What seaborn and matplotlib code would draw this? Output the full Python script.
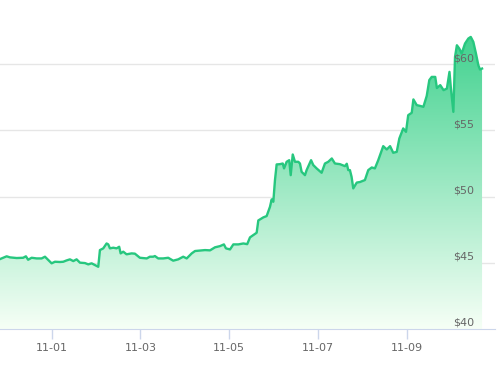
import numpy as np
import pandas as pd
import matplotlib
matplotlib.use("Agg")
import matplotlib.pyplot as plt
import matplotlib.dates as mdates
import seaborn as sns

# price readings, hours counted from 2021-10-30 00:00
hours = [20.1, 23.7, 25.5, 29.1, 32.6, 34.1, 35.3, 37.2, 39.9, 42.6, 44.4, 46.2,
         48.0, 49.8, 52.5, 54.3, 56.1, 57.9, 59.7, 61.5, 63.3, 66.0, 67.8, 69.6,
         71.4, 73.2, 74.1, 75.9, 77.7, 78.6, 79.5, 81.3, 83.1, 84.5, 85.3, 86.7,
         88.5, 91.2, 93.0, 95.7, 99.4, 101.1, 102.9, 103.8, 105.6, 108.3, 111.0,
         113.7, 116.4, 119.1, 121.0, 123.7, 125.5, 128.1, 130.9, 133.6, 136.3,
         139.0, 141.1, 142.2, 144.4, 146.2, 148.9, 151.6, 153.7, 155.2, 157.0,
         158.8, 159.7, 162.4, 164.2, 166.0, 166.9, 167.8, 168.7, 169.6, 171.4,
         172.9, 173.6, 175.0, 176.4, 177.2, 178.3, 179.5, 181.3, 182.2, 183.1,
         184.9, 185.8, 188.2, 189.4, 191.2, 193.9, 195.7, 197.5, 199.4, 201.1,
         203.8, 206.5, 207.5, 208.3, 209.2, 210.1, 211.0, 212.9, 214.6, 217.3,
         219.1, 221.0, 222.7, 224.5, 227.2, 229.1, 230.9, 232.6, 234.5, 235.9,
         238.0, 239.5, 240.7, 242.6, 243.5, 245.3, 247.1, 248.9, 250.7, 252.1,
         253.4, 255.3, 256.2, 258.0, 259.8, 261.6, 263.0, 263.7, 265.1, 266.0,
         267.0, 268.3, 269.6, 271.4, 273.2, 274.5, 275.9, 277.3, 278.6, 279.5,
         280.6]
prices = [45.28, 45.49, 45.41, 45.36, 45.38, 45.49, 45.23, 45.38, 45.33, 45.33,
          45.46, 45.21, 44.96, 45.08, 45.06, 45.08, 45.18, 45.26, 45.13, 45.26,
          45.01, 44.98, 44.88, 44.96, 44.83, 44.70, 45.96, 46.09, 46.46, 46.39,
          46.09, 46.14, 46.09, 46.21, 45.71, 45.84, 45.64, 45.71, 45.69, 45.38,
          45.33, 45.46, 45.46, 45.51, 45.33, 45.33, 45.38, 45.16, 45.26, 45.46,
          45.33, 45.71, 45.89, 45.92, 45.96, 45.94, 46.17, 46.26, 46.39, 46.09,
          46.01, 46.39, 46.39, 46.46, 46.41, 46.92, 47.09, 47.27, 48.20, 48.43,
          48.53, 49.23, 49.79, 49.61, 51.25, 52.43, 52.45, 52.50, 52.13, 52.63,
          52.75, 51.62, 53.18, 52.63, 52.63, 52.50, 51.87, 51.62, 52.00, 52.75,
          52.38, 52.13, 51.80, 52.50, 52.63, 52.88, 52.50, 52.45, 52.30, 52.48,
          52.00, 52.00, 51.49, 50.62, 51.06, 51.10, 51.25, 52.00, 52.20, 52.13,
          52.75, 53.81, 53.56, 53.81, 53.31, 53.38, 54.39, 55.15, 54.89, 56.15,
          56.33, 57.34, 56.91, 56.85, 56.78, 57.60, 58.80, 59.04, 59.04, 58.20,
          58.42, 58.04, 58.16, 59.42, 58.29, 56.40, 60.55, 61.43, 61.18, 60.81,
          61.56, 61.94, 62.06, 61.68, 60.81, 59.92, 59.60, 59.67]

tick_days = ["2021-11-01", "2021-11-03", "2021-11-05", "2021-11-07", "2021-11-09"]
price_ticks = [40, 45, 50, 55, 60]

start = pd.Timestamp("2021-10-30")
df = pd.DataFrame({"time": start + pd.to_timedelta(hours, unit="h"), "price": prices})

line_c = "#27c77f"
top_c = np.array([42, 204, 130]) / 255
bot_c = np.array([246, 255, 246]) / 255

fig = plt.figure(figsize=(5, 3.65), dpi=100)
ax = fig.add_axes([0, 36 / 365, 495 / 500, 331 / 365])

x0 = start + pd.Timedelta(hours=20.1)
x1 = start + pd.Timedelta(hours=287.6)
ax.set_xlim(x0, x1)
ax.set_ylim(40, 65)

# gradient fill under the line
poly = ax.fill_between(df.time, df.price, 40, color="none", lw=0)
t = np.linspace(0, 1, 256).reshape(-1, 1, 1)
img = bot_c + (top_c - bot_c) * t
im = ax.imshow(img, extent=[mdates.date2num(x0), mdates.date2num(x1), 40, 65],
               aspect="auto", origin="lower", zorder=1, interpolation="bilinear")
im.set_clip_path(poly.get_paths()[0], transform=ax.transData)

sns.lineplot(data=df, x="time", y="price", color=line_c, lw=1.7, ax=ax, zorder=3)

# grid
for v in price_ticks[1:] + [65]:
    ax.axhline(v, color="#e6e6e6", lw=1, zorder=0.5)
for v in price_ticks:
    ax.text(0.958, v + 0.08, f"${v}", transform=ax.get_yaxis_transform(),
            ha="right", va="bottom", fontsize=8, color="#666666", zorder=4)

ax.set_yticks([])
ax.set_xticks(pd.to_datetime(tick_days))
ax.xaxis.set_major_formatter(mdates.DateFormatter("%m-%d"))
ax.tick_params(axis="x", length=7, width=1, color="#ccd6eb", labelcolor="#666666",
               labelsize=8, pad=3)
ax.set_xlabel("")
ax.set_ylabel("")
for s in ["top", "left", "right"]:
    ax.spines[s].set_visible(False)
ax.spines["bottom"].set_color("#ccd6eb")
ax.spines["bottom"].set_zorder(5)

fig.savefig("out.png", dpi=100)
